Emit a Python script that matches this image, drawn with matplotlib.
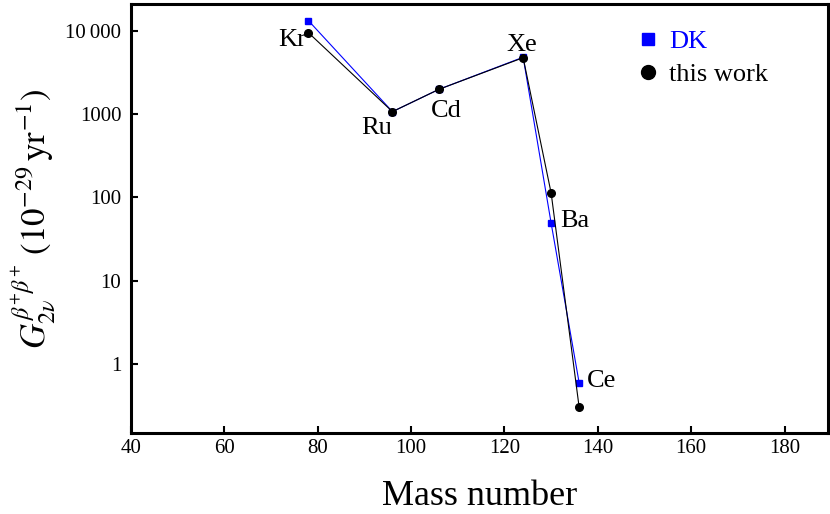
import matplotlib
matplotlib.use("Agg")
import matplotlib.pyplot as plt

plt.rcParams['font.family'] = ['Liberation Serif', 'DejaVu Serif']
plt.rcParams['mathtext.fontset'] = 'stix'

# Data
elements = ["Kr", "Ru", "Cd", "Xe", "Ba", "Ce"]
mass = [78, 96, 106, 124, 130, 136]
dk_values = [13200, 1066, 1980, 4800, 48.7, 0.59]
this_work = [9460, 1066, 1980, 4740, 112, 0.30]
yticks = [1, 10, 100, 1000, 10000]
ytick_labels = ["1", "10", "100", "1000", "10\u2009000"]
xticks = [40, 60, 80, 100, 120, 140, 160, 180]

# label offsets (pixels) and which series they attach to
label_style = {
    "Kr": (this_work, -2, -7, 'right'),
    "Ru": (this_work, 0, -16, 'right'),
    "Cd": (this_work, -8, -22, 'left'),
    "Xe": (this_work, -1, 13, 'center'),
    "Ba": (dk_values, 9, 2, 'left'),
    "Ce": (dk_values, 8, 2, 'left'),
}

fig = plt.figure(figsize=(8.3, 5.14), dpi=100)
ax = fig.add_axes([131/830, 1 - 433/514, (828-131)/830, (433-4)/514])

ax.plot(mass, dk_values, color='blue', lw=0.8, marker='s', ms=5,
        mec='blue', mfc='blue', label='DK', zorder=2)
ax.plot(mass, this_work, color='black', lw=0.8, marker='o', ms=5.5,
        mec='black', mfc='black', label='this work', zorder=3)

for i, el in enumerate(elements):
    series, dx, dy, ha = label_style[el]
    ax.annotate(el, (mass[i], series[i]), xytext=(dx, dy),
                textcoords='offset pixels', ha=ha, va='center', fontsize=19)

ax.set_yscale('log')
ax.set_xlim(40, 189.3)
ax.set_ylim(0.148, 20900)
ax.set_yticks(yticks)
ax.set_yticklabels(ytick_labels)
ax.yaxis.set_minor_locator(matplotlib.ticker.NullLocator())
ax.set_xticks(xticks)

for s in ax.spines.values():
    s.set_linewidth(2.2)
ax.tick_params(axis='both', which='major', direction='in', length=5, width=1.5,
               labelsize=15)
ax.tick_params(axis='x', pad=4)
ax.tick_params(axis='y', pad=7)

ax.set_xlabel("Mass number", fontsize=26, labelpad=16)
ax.set_ylabel(r"$G_{2\nu}^{\beta^{+}\beta^{+}}\ (10^{-29}\,\mathrm{yr}^{-1})$",
              fontsize=25, labelpad=6)

leg = ax.legend(loc='upper left', bbox_to_anchor=(0.727, 0.94), frameon=False,
                fontsize=19, handlelength=0.8, handletextpad=0.4,
                labelspacing=0.35, borderpad=0, borderaxespad=0)
for h in leg.legend_handles:
    h.set_linestyle('none')
leg.legend_handles[0].set_markersize(9)
leg.legend_handles[1].set_markersize(10)
leg.get_texts()[0].set_color('blue')

fig.savefig("out.png", dpi=100)
